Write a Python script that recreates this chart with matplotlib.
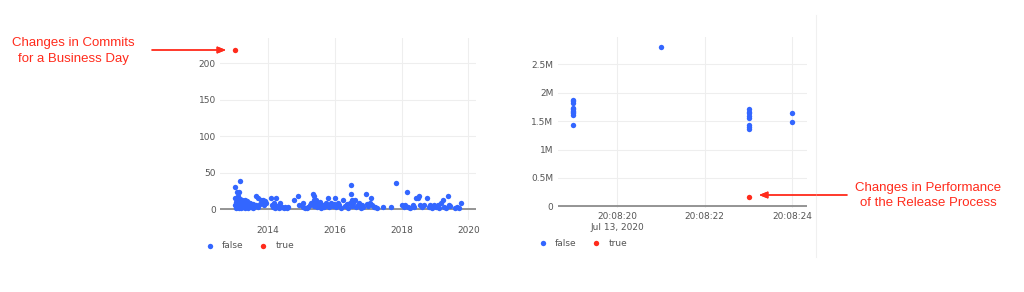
import matplotlib
matplotlib.use('Agg')
import matplotlib.pyplot as plt
import matplotlib.dates as mdates
from matplotlib.lines import Line2D
from matplotlib.ticker import FuncFormatter
from datetime import datetime

BLUE = '#3366ff'
RED = '#ff2b1c'
GRID = '#eeeeee'
ZERO = '#8c8c8c'
TICK = '#555555'

# Left chart: commits per business day (false = normal, true = anomaly)
commit_dates = [
	'2013-01-08', '2013-01-10', '2013-01-12', '2013-01-15', '2013-01-20', '2013-01-25', '2013-02-01',
	'2013-02-05', '2013-02-10', '2013-02-12', '2013-02-15', '2013-02-20', '2013-02-25', '2013-03-01',
	'2013-03-05', '2013-03-08', '2013-03-12', '2013-03-18', '2013-03-22', '2013-03-28', '2013-04-02',
	'2013-04-08', '2013-04-12', '2013-04-18', '2013-04-25', '2013-05-01', '2013-05-06', '2013-05-12',
	'2013-05-18', '2013-05-25', '2013-06-01', '2013-06-08', '2013-06-15', '2013-06-22', '2013-06-28',
	'2013-07-05', '2013-07-12', '2013-07-20', '2013-07-28', '2013-08-05', '2013-08-20', '2013-08-28',
	'2013-09-10', '2013-09-20', '2013-10-05', '2013-10-15', '2013-10-25', '2013-11-05', '2013-11-15',
	'2013-11-25', '2013-12-05', '2013-12-15',
	'2014-02-01', '2014-02-15', '2014-03-01', '2014-03-10', '2014-03-20', '2014-04-05', '2014-04-15',
	'2014-05-01', '2014-05-10', '2014-05-20', '2014-06-10', '2014-06-25', '2014-07-10', '2014-07-25',
	'2014-08-10', '2014-10-15', '2014-11-25', '2014-12-05', '2015-01-15', '2015-01-25', '2015-02-10',
	'2015-03-01', '2015-03-20', '2015-04-05', '2015-04-20', '2015-05-10', '2015-05-15', '2015-05-20',
	'2015-05-25', '2015-06-05', '2015-06-15', '2015-06-25', '2015-07-10', '2015-07-25', '2015-08-10',
	'2015-08-25', '2015-09-10', '2015-09-25', '2015-10-15', '2015-10-20', '2015-11-05', '2015-11-20',
	'2015-12-10', '2015-12-25',
	'2016-01-10', '2016-01-20', '2016-02-05', '2016-02-20', '2016-03-10', '2016-04-05', '2016-04-20',
	'2016-05-10', '2016-05-25', '2016-06-15', '2016-06-28', '2016-07-01', '2016-07-05', '2016-07-10',
	'2016-07-25', '2016-08-10', '2016-08-25', '2016-09-10', '2016-09-25', '2016-10-10', '2016-10-25',
	'2016-11-10', '2016-12-05', '2016-12-20',
	'2017-01-05', '2017-01-20', '2017-02-05', '2017-02-15', '2017-03-01', '2017-03-15', '2017-04-05',
	'2017-06-10', '2017-09-10', '2017-11-05',
	'2018-01-10', '2018-01-25', '2018-02-10', '2018-02-28', '2018-03-15', '2018-04-01', '2018-05-01',
	'2018-05-20', '2018-06-10', '2018-07-01', '2018-07-15', '2018-07-25', '2018-08-10', '2018-09-05',
	'2018-10-10', '2018-10-25', '2018-11-10', '2018-12-01', '2018-12-20',
	'2019-01-10', '2019-02-01', '2019-02-20', '2019-03-10', '2019-03-28', '2019-04-10', '2019-05-05',
	'2019-05-20', '2019-06-05', '2019-06-15', '2019-08-10', '2019-09-01', '2019-09-25', '2019-10-10',
]
commit_counts = [
	30, 15, 6, 2, 10, 4, 24, 12, 18, 3, 24, 8, 1, 39, 14, 6, 10, 2, 5, 12, 8, 3, 11, 6, 2, 12, 9, 4,
	11, 7, 2, 9, 5, 8, 3, 6, 4, 2, 7, 3, 18, 6, 15, 3, 7, 12, 10, 13, 8, 5, 11, 9,
	15, 6, 3, 8, 2, 15, 4, 2, 8, 3, 3, 2, 3, 2, 3, 12, 18, 6, 9, 3, 1,
	2, 3, 6, 9, 21, 18, 12, 4, 9, 12, 3, 7, 10, 2, 5, 3, 8, 15, 6, 3, 9, 4, 7,
	15, 3, 9, 5, 2, 12, 4, 7, 2, 9, 33, 21, 12, 4, 8, 12, 3, 6, 9, 2, 6, 3, 21, 7,
	4, 9, 15, 6, 3, 3, 2, 3, 3, 36,
	6, 3, 6, 24, 3, 2, 6, 3, 15, 15, 18, 6, 3, 6, 15, 3, 6, 2, 5,
	3, 6, 2, 9, 12, 3, 2, 18, 6, 4, 2, 3, 2, 9,
]
commit_anomaly_dates = ['2013-01-08']
commit_anomaly_counts = [218]

# Right chart: release process duration
release_times = [
	'20:08:19', '20:08:19', '20:08:19', '20:08:19', '20:08:19', '20:08:19', '20:08:19', '20:08:19',
	'20:08:19', '20:08:19', '20:08:21', '20:08:23', '20:08:23', '20:08:23', '20:08:23', '20:08:23',
	'20:08:23', '20:08:23', '20:08:23', '20:08:24', '20:08:24',
]
release_values = [
	1.88e6, 1.85e6, 1.82e6, 1.74e6, 1.71e6, 1.68e6, 1.64e6, 1.61e6, 1.43e6, 1.66e6, 2.8e6,
	1.71e6, 1.67e6, 1.64e6, 1.60e6, 1.55e6, 1.44e6, 1.40e6, 1.37e6, 1.65e6, 1.48e6,
]
release_anomaly_times = ['20:08:23']
release_anomaly_values = [0.17e6]
release_day = '2020-07-13'

W, H = 1024, 292


def px(x, y):
	# figure pixel (from top-left) -> figure fraction
	return x / W, 1 - y / H


def to_dt(t, micro=0):
	return datetime.strptime(f'{release_day} {t}', '%Y-%m-%d %H:%M:%S').replace(microsecond=micro)


def style_axes(ax):
	for s in ax.spines.values():
		s.set_visible(False)
	ax.grid(True, color=GRID, linewidth=0.8)
	ax.set_axisbelow(True)
	ax.axhline(0, color=ZERO, linewidth=1.3, zorder=1)
	ax.tick_params(length=0, labelsize=6.5, labelcolor=TICK, pad=3)


fig = plt.figure(figsize=(W / 100, H / 100), dpi=100)
plt.rcParams['font.family'] = 'DejaVu Sans'

# ---- left chart
ax1 = fig.add_axes([220 / W, 1 - 220 / H, 256 / W, 182 / H])
style_axes(ax1)
ax1.scatter(
	[datetime.strptime(d, '%Y-%m-%d') for d in commit_dates], commit_counts,
	s=15, color=BLUE, linewidths=0, label='false', zorder=3,
)
ax1.scatter(
	[datetime.strptime(d, '%Y-%m-%d') for d in commit_anomaly_dates], commit_anomaly_counts,
	s=15, color=RED, linewidths=0, label='true', zorder=3, clip_on=False,
)
ax1.set_xlim(datetime(2012, 7, 27), datetime(2020, 3, 25))
ax1.set_ylim(-15, 235)
ax1.set_yticks([0, 50, 100, 150, 200])
ax1.xaxis.set_major_locator(mdates.YearLocator(2))
ax1.xaxis.set_major_formatter(mdates.DateFormatter('%Y'))
ax1.tick_params(axis='x', pad=4)
ax1.legend(
	loc='center left', bbox_to_anchor=px(205, 246), bbox_transform=fig.transFigure,
	ncol=2, frameon=False, fontsize=6.5, handlelength=1, handletextpad=0.9,
	columnspacing=1.6, borderpad=0, borderaxespad=0, labelcolor=TICK,
)

# ---- right chart
ax2 = fig.add_axes([557.7 / W, 1 - 208.3 / H, 249.6 / W, 171.6 / H])
style_axes(ax2)
ax2.scatter(
	[to_dt(t) for t in release_times], release_values,
	s=15, color=BLUE, linewidths=0, label='false', zorder=3,
)
ax2.scatter(
	[to_dt(t) for t in release_anomaly_times], release_anomaly_values,
	s=15, color=RED, linewidths=0, label='true', zorder=3,
)
ax2.set_xlim(to_dt('20:08:18', 650000), to_dt('20:08:24', 340000))
ax2.set_ylim(-0.035e6, 2.99e6)
ax2.set_yticks([0, 0.5e6, 1e6, 1.5e6, 2e6, 2.5e6])
ax2.yaxis.set_major_formatter(FuncFormatter(lambda v, _: '0' if v == 0 else f'{v / 1e6:g}M'))
ax2.set_xticks([to_dt('20:08:20'), to_dt('20:08:22'), to_dt('20:08:24')])
ax2.xaxis.set_major_formatter(FuncFormatter(
	lambda v, i: mdates.num2date(v).strftime('%H:%M:%S') + ('\nJul 13, 2020' if i == 0 else '')
))
ax2.tick_params(axis='x', pad=3)
for lbl in ax2.get_xticklabels():
	lbl.set_linespacing(1.2)
	lbl.set_verticalalignment('top')
ax2.legend(
	loc='center left', bbox_to_anchor=px(538, 243), bbox_transform=fig.transFigure,
	ncol=2, frameon=False, fontsize=6.5, handlelength=1, handletextpad=0.9,
	columnspacing=1.6, borderpad=0, borderaxespad=0, labelcolor=TICK,
)

# faint frame edge to the right of the second chart
fig.add_artist(Line2D([816 / W, 816 / W], [1 - 15 / H, 1 - 257 / H], color='#f0f0f0', linewidth=0.8))

# ---- annotations
ann_font = dict(color=RED, fontsize=9.5, ha='center', va='center', family='Liberation Sans', linespacing=1.35)
fig.text(*px(73, 51), 'Changes in Commits\nfor a Business Day', **ann_font)
fig.text(*px(928, 195.5), 'Changes in Performance\nof the Release Process', **ann_font)

arrow = dict(arrowstyle='-|>,head_length=0.5,head_width=0.2', color=RED, lw=1, shrinkA=0, shrinkB=0)
fig.add_artist(plt.annotate('', xy=px(226, 50), xytext=px(152, 50), xycoords=fig.transFigure, arrowprops=arrow))
fig.add_artist(plt.annotate('', xy=px(759, 195), xytext=px(847, 195), xycoords=fig.transFigure, arrowprops=arrow))

fig.savefig('out.png', dpi=100, facecolor='white')
